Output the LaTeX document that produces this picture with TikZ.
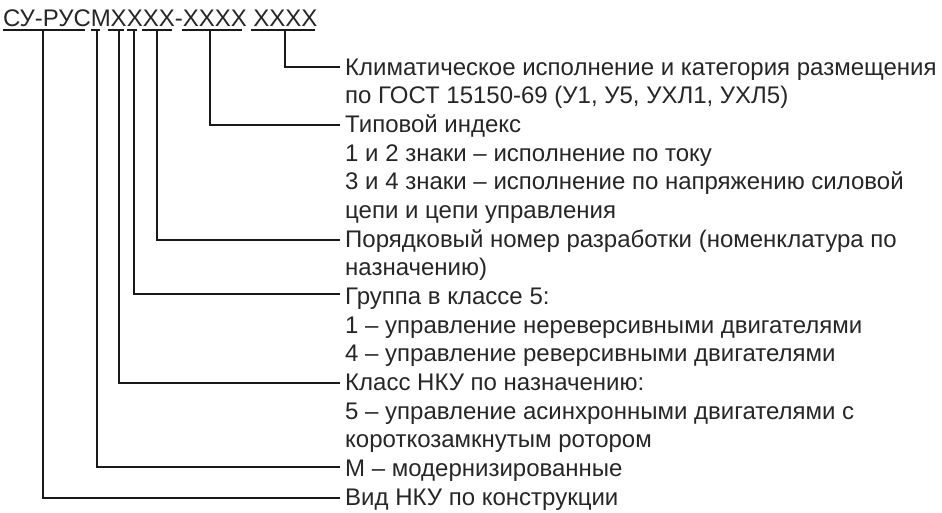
\documentclass[tikz,border=0pt]{standalone}
\usepackage{fontspec}
\setmainfont{Liberation Sans}
\begin{document}
\begin{tikzpicture}[x=1pt,y=-1pt,
  font=\fontsize{24}{28}\selectfont,
  txt/.style={anchor=base west, inner sep=0pt, text=black!85},
  lead/.style={line width=1.3pt, black!90}]
\useasboundingbox (0,0) rectangle (942,512);
% header
\node[txt] (hdr) at (3,26) {СУ-РУСМXXXX-XXXX XXXX};
% underlines
\draw[lead] (3,30) -- (85,30);
\draw[lead] (91,30) -- (100,30);
\draw[lead] (108,30) -- (124,30);
\draw[lead] (127,30) -- (137,30);
\draw[lead] (142,30) -- (172,30);
\draw[lead] (182,30) -- (242,30);
\draw[lead] (251,30) -- (315,30);
% texts
\def\bx{345}
\node[txt] (t0)  at (\bx,75.0)  {Климатическое исполнение и категория размещения};
\node[txt] (t1)  at (\bx,103.7) {по ГОСТ 15150-69 (У1, У5, УХЛ1, УХЛ5)};
\node[txt] (t2)  at (\bx,132.3) {Типовой индекс};
\node[txt] (t3)  at (\bx,161.0) {1 и 2 знаки – исполнение по току};
\node[txt] (t4)  at (\bx,189.7) {3 и 4 знаки – исполнение по напряжению силовой};
\node[txt] (t5)  at (\bx,218.3) {цепи и цепи управления};
\node[txt] (t6)  at (\bx,247.0) {Порядковый номер разработки (номенклатура по};
\node[txt] (t7)  at (\bx,275.7) {назначению)};
\node[txt] (t8)  at (\bx,304.3) {Группа в классе 5:};
\node[txt] (t9)  at (\bx,333.0) {1 – управление нереверсивными двигателями};
\node[txt] (t10) at (\bx,361.7) {4 – управление реверсивными двигателями};
\node[txt] (t11) at (\bx,390.3) {Класс НКУ по назначению:};
\node[txt] (t12) at (\bx,419.0) {5 – управление асинхронными двигателями с};
\node[txt] (t13) at (\bx,447.7) {короткозамкнутым ротором};
\node[txt] (t14) at (\bx,476.3) {М – модернизированные};
\node[txt] (t15) at (\bx,505.0) {Вид НКУ по конструкции};
% leader ends
\coordinate (e0)  at (340,67);
\coordinate (e2)  at (340,125);
\coordinate (e6)  at (340,240);
\coordinate (e8)  at (340,294);
\coordinate (e11) at (340,383);
\coordinate (e14) at (340,467);
\coordinate (e15) at (340,498);
% connectors
\draw[lead] (285,30) |- (e0);
\draw[lead] (210,30) |- (e2);
\draw[lead] (157,30) |- (e6);
\draw[lead] (134,30) |- (e8);
\draw[lead] (119,30) |- (e11);
\draw[lead] (97,30)  |- (e14);
\draw[lead] (43,30)  |- (e15);
\end{tikzpicture}
\end{document}
